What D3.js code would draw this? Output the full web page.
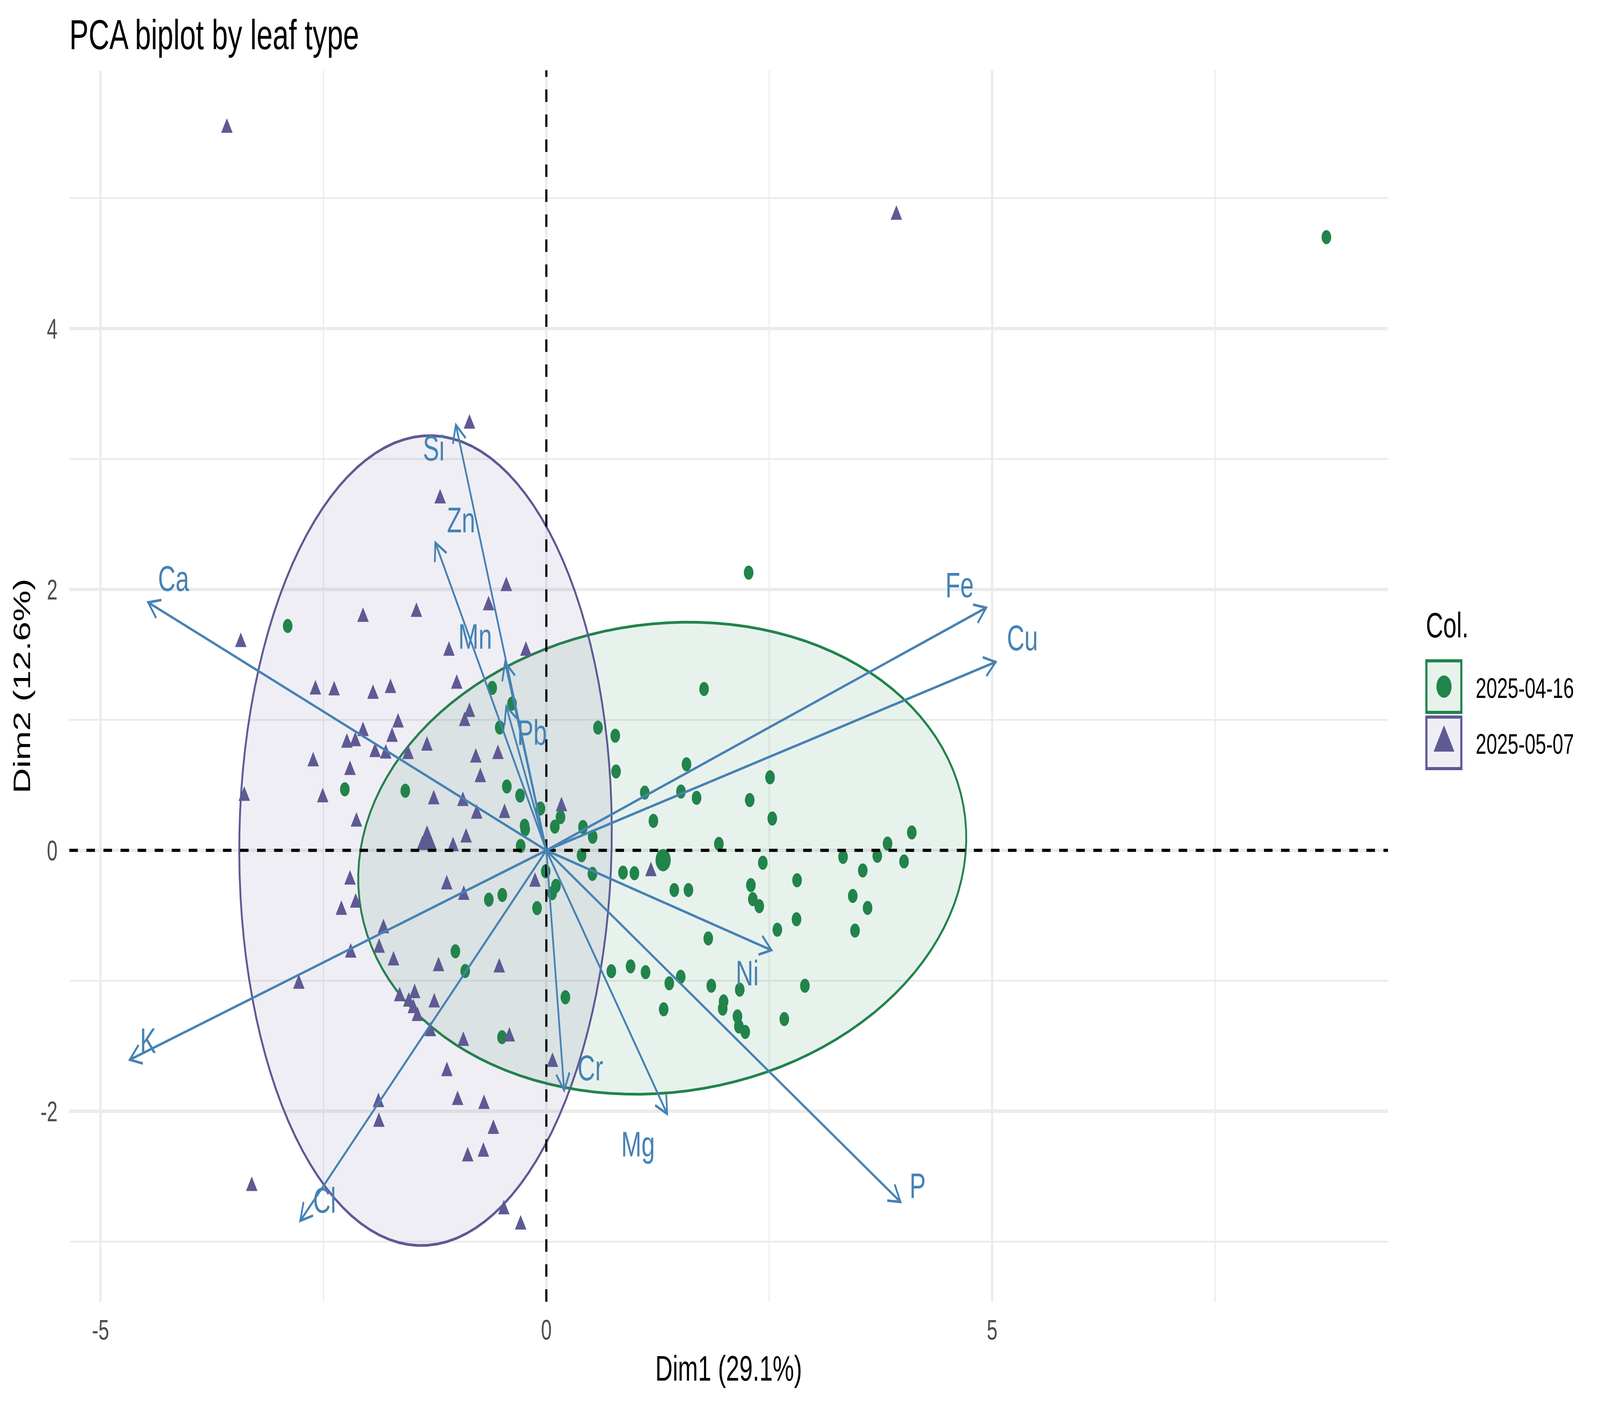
<!DOCTYPE html>
<html>
<head>
<meta charset="utf-8">
<script src="https://cdn.jsdelivr.net/npm/d3@7"></script>
<style>
  html, body { margin: 0; padding: 0; background: #ffffff; overflow: hidden; width: 100%; height: 100%; }
  #chart { position: fixed; left: 0; top: 0; width: 100vw; height: 100vh; }
  svg { display: block; width: 100vw; height: 100vh; }
  text { font-family: "Liberation Sans", Arial, Helvetica, sans-serif; }
</style>
</head>
<body>
<div id="chart"></div>
<script>
// ---------------- DATA ----------------
const groups = ["2025-04-16", "2025-05-07"];
const groupColors = ["#21844A", "#5E5A94"];

// Individuals, group 2025-04-16 (circles)
const grpA_x = [-2.901,-0.607,-0.385,-0.523,-2.260,-1.582,-0.443,-0.295,-0.066,-0.244,-0.237,0.095,0.159,-0.288,-0.007,0.108,0.065,-0.645,-0.494,-0.104,-1.020,-0.910,-0.497,2.269,1.769,0.579,0.773,0.782,1.572,2.509,1.104,1.510,1.685,2.281,1.201,2.534,0.411,0.520,1.935,0.395,0.517,0.860,0.988,1.435,1.594,2.428,2.812,2.294,2.316,2.388,3.328,3.549,3.712,3.827,4.099,4.012,3.437,3.603,2.806,2.591,3.462,1.816,0.214,0.729,0.945,1.113,1.507,1.379,1.850,2.169,2.900,1.988,1.978,1.316,2.144,2.160,2.231,2.669,8.749];
const grpA_y = [1.720,1.246,1.125,0.942,0.468,0.457,0.490,0.420,0.321,0.189,0.162,0.182,0.255,0.034,-0.161,-0.272,-0.328,-0.378,-0.342,-0.443,-0.774,-0.925,-1.432,2.129,1.237,0.941,0.879,0.605,0.660,0.560,0.443,0.451,0.403,0.386,0.226,0.244,0.179,0.104,0.050,-0.037,-0.180,-0.170,-0.175,-0.304,-0.304,-0.095,-0.229,-0.266,-0.374,-0.428,-0.050,-0.154,-0.042,0.052,0.137,-0.085,-0.349,-0.441,-0.528,-0.608,-0.615,-0.675,-1.126,-0.926,-0.889,-0.934,-0.969,-1.019,-1.038,-1.068,-1.038,-1.158,-1.213,-1.218,-1.273,-1.350,-1.392,-1.293,4.701];

// Individuals, group 2025-05-07 (triangles)
const grpB_x = [-0.862,-1.191,-0.449,-0.648,-2.056,-1.457,-3.427,-1.092,-0.229,-2.590,-2.380,-1.944,-1.748,-1.005,-0.862,-0.916,-1.663,-2.056,-2.237,-2.143,-1.730,-1.921,-1.801,-1.551,-1.339,-2.615,-2.202,-0.791,-0.543,-0.740,-2.508,-3.388,-1.263,-0.936,-0.781,-0.469,-2.130,-1.046,-0.900,-2.202,-1.117,-0.926,-2.138,-2.299,-0.127,-1.827,-1.875,-2.194,-1.714,-1.209,-0.528,-2.776,-1.645,-1.477,-1.543,-1.492,-1.446,-1.257,-1.301,-0.931,-0.415,0.069,-1.115,-1.883,-0.995,-0.699,-1.878,-0.594,-0.882,-0.706,-3.304,-0.477,-0.288,0.170,1.173,-3.583,3.926,-1.390];
const grpB_y = [3.270,2.697,2.025,1.877,1.789,1.827,1.596,1.529,1.529,1.232,1.225,1.199,1.243,1.276,1.060,0.990,0.979,0.913,0.824,0.835,0.869,0.752,0.741,0.737,0.802,0.681,0.615,0.710,0.737,0.560,0.406,0.417,0.390,0.377,0.280,0.285,0.219,0.031,0.097,-0.225,-0.262,-0.342,-0.402,-0.457,-0.242,-0.598,-0.748,-0.785,-0.845,-0.889,-0.899,-1.024,-1.120,-1.096,-1.161,-1.211,-1.271,-1.167,-1.388,-1.462,-1.428,-1.623,-1.694,-1.931,-1.915,-1.945,-2.082,-2.136,-2.347,-2.311,-2.574,-2.753,-2.870,0.337,-0.161,5.538,4.871,0.040];

// Group mean points
const centroid_x = [1.31, -1.338];
const centroid_y = [-0.075, 0.067];

// Concentration ellipses (centre, semi-axes, rotation in degrees)
const ellipse_cx = [1.30, -1.355];
const ellipse_cy = [-0.06, 0.075];
const ellipse_rx = [3.415, 2.088];
const ellipse_ry = [1.80, 3.105];
const ellipse_angle = [3.65, -1.6];

// Variables (arrows)
const vars    = ["Ca","K","Cl","Si","Zn","Mn","Pb","Fe","Cu","Ni","P","Mg","Cr"];
const var_x   = [-4.466,-4.672,-2.760,-1.015,-1.245,-0.463,-0.450,4.933,5.040,2.525,3.972,1.355,0.200];
const var_y   = [1.901,-1.605,-2.840,3.262,2.359,1.442,1.104,1.860,1.444,-0.765,-2.695,-2.020,-1.840];
const label_x = [-4.181,-4.466,-2.488,-1.263,-0.956,-0.798,-0.160,4.635,5.340,2.253,4.165,1.029,0.494];
const label_y = [2.084,-1.458,-2.683,3.086,2.535,1.643,0.905,2.037,1.630,-0.939,-2.569,-2.249,-1.668];

// Axes
const xMajorTicks = [-5, 0, 5];
const xMinorTicks = [-2.5, 2.5, 7.5];
const yMajorTicks = [-2, 0, 2, 4];
const yMinorTicks = [-3, -1, 1, 3, 5];
const xDomain = [-5.35, 9.44];
const yDomain = [-3.46, 5.98];

const titleText = "PCA biplot by leaf type";
const xTitle = "Dim1 (29.1%)";
const yTitle = "Dim2 (12.6%)";
const legendTitle = "Col.";

// ---------------- LAYOUT ----------------
const W = 6000, H = 3600;
const panel = {left: 260, right: 5205, top: 180, bottom: 3333};
const arrowColor = "#4682B4";
const gridColor = "#EBEBEB";

const svg = d3.select("#chart").append("svg")
  .attr("viewBox", `0 0 ${W} ${H}`)
  .attr("preserveAspectRatio", "none");

svg.append("rect").attr("width", W).attr("height", H).attr("fill", "#ffffff");

const x = d3.scaleLinear().domain(xDomain).range([panel.left, panel.right]);
const y = d3.scaleLinear().domain(yDomain).range([panel.bottom, panel.top]);

// ---------------- GRID ----------------
const grid = svg.append("g");
grid.selectAll(".xminor").data(xMinorTicks).enter().append("line")
  .attr("x1", d => x(d)).attr("x2", d => x(d))
  .attr("y1", panel.top).attr("y2", panel.bottom)
  .attr("stroke", gridColor).attr("stroke-width", 4.5);
grid.selectAll(".yminor").data(yMinorTicks).enter().append("line")
  .attr("y1", d => y(d)).attr("y2", d => y(d))
  .attr("x1", panel.left).attr("x2", panel.right)
  .attr("stroke", gridColor).attr("stroke-width", 4.5);
grid.selectAll(".xmajor").data(xMajorTicks).enter().append("line")
  .attr("x1", d => x(d)).attr("x2", d => x(d))
  .attr("y1", panel.top).attr("y2", panel.bottom)
  .attr("stroke", gridColor).attr("stroke-width", 8.5);
grid.selectAll(".ymajor").data(yMajorTicks).enter().append("line")
  .attr("y1", d => y(d)).attr("y2", d => y(d))
  .attr("x1", panel.left).attr("x2", panel.right)
  .attr("stroke", gridColor).attr("stroke-width", 8.5);

// ---------------- ELLIPSES ----------------
const line = d3.line().x(d => x(d[0])).y(d => y(d[1])).curve(d3.curveLinearClosed);
const ellG = svg.append("g");
groups.forEach((g, i) => {
  const th = ellipse_angle[i] * Math.PI / 180;
  const pts = d3.range(0, 360, 3).map(a => {
    const t = a * Math.PI / 180;
    const ex = ellipse_rx[i] * Math.cos(t), ey = ellipse_ry[i] * Math.sin(t);
    return [ellipse_cx[i] + ex * Math.cos(th) - ey * Math.sin(th),
            ellipse_cy[i] + ex * Math.sin(th) + ey * Math.cos(th)];
  });
  ellG.append("path").attr("d", line(pts))
    .attr("fill", groupColors[i]).attr("fill-opacity", 0.1)
    .attr("stroke", groupColors[i]).attr("stroke-width", 7);
});

// ---------------- POINTS ----------------
const ptsA = grpA_x.map((v, i) => [v, grpA_y[i]]);
const ptsB = grpB_x.map((v, i) => [v, grpB_y[i]]);
const pg = svg.append("g");
pg.selectAll(".ca").data(ptsA).enter().append("circle")
  .attr("cx", d => x(d[0])).attr("cy", d => y(d[1])).attr("r", 18)
  .attr("fill", groupColors[0]);
const tri = d3.symbol().type(d3.symbolTriangle).size(800);
pg.selectAll(".tb").data(ptsB).enter().append("path")
  .attr("d", tri).attr("transform", d => `translate(${x(d[0])},${y(d[1])})`)
  .attr("fill", groupColors[1]);
// group means
pg.append("circle").attr("cx", x(centroid_x[0])).attr("cy", y(centroid_y[0])).attr("r", 28.5)
  .attr("fill", groupColors[0]);
pg.append("path").attr("d", d3.symbol().type(d3.symbolTriangle).size(2300))
  .attr("transform", `translate(${x(centroid_x[1])},${y(centroid_y[1])})`)
  .attr("fill", groupColors[1]);

// ---------------- ZERO LINES ----------------
svg.append("line").attr("x1", panel.left).attr("x2", panel.right)
  .attr("y1", y(0)).attr("y2", y(0))
  .attr("stroke", "#000").attr("stroke-width", 8).attr("stroke-dasharray", "32,32");
svg.append("line").attr("y1", panel.bottom).attr("y2", panel.top)
  .attr("x1", x(0)).attr("x2", x(0))
  .attr("stroke", "#000").attr("stroke-width", 8).attr("stroke-dasharray", "32,32");

// ---------------- ARROWS ----------------
const ag = svg.append("g").attr("stroke", arrowColor).attr("stroke-width", 6.5)
  .attr("fill", "none").attr("stroke-linecap", "butt");
const headLen = 50, headAng = Math.PI / 6;
vars.forEach((v, i) => {
  const x0 = x(0), y0 = y(0), x1 = x(var_x[i]), y1 = y(var_y[i]);
  ag.append("line").attr("x1", x0).attr("y1", y0).attr("x2", x1).attr("y2", y1);
  const ang = Math.atan2(y1 - y0, x1 - x0);
  const a1 = ang + Math.PI - headAng, a2 = ang + Math.PI + headAng;
  ag.append("path").attr("d",
    `M${x1 + headLen * Math.cos(a1)},${y1 + headLen * Math.sin(a1)}L${x1},${y1}L${x1 + headLen * Math.cos(a2)},${y1 + headLen * Math.sin(a2)}`)
    .attr("stroke-linejoin", "miter");
});
svg.append("g").selectAll("text").data(vars).enter().append("text")
  .attr("x", (d, i) => x(label_x[i]))
  .attr("y", (d, i) => y(label_y[i]) + 32)
  .attr("text-anchor", "middle")
  .attr("font-size", 91)
  .attr("fill", arrowColor)
  .text(d => d);

// ---------------- AXES ----------------
svg.append("g").selectAll("text").data(xMajorTicks).enter().append("text")
  .attr("x", d => x(d)).attr("y", 3430)
  .attr("text-anchor", "middle").attr("font-size", 72).attr("fill", "#4D4D4D")
  .text(d => d3.format("d")(d).replace("\u2212", "-"));
svg.append("g").selectAll("text").data(yMajorTicks).enter().append("text")
  .attr("x", 216).attr("y", d => y(d) + 26)
  .attr("text-anchor", "end").attr("font-size", 72).attr("fill", "#4D4D4D")
  .text(d => d3.format("d")(d).replace("\u2212", "-"));

svg.append("text").attr("x", (panel.left + panel.right) / 2).attr("y", 3535)
  .attr("text-anchor", "middle").attr("font-size", 90).attr("fill", "#000")
  .text(xTitle);
svg.append("text")
  .attr("transform", `translate(113,${(panel.top + panel.bottom) / 2}) rotate(-90)`)
  .attr("text-anchor", "middle").attr("font-size", 90).attr("fill", "#000")
  .text(yTitle);

svg.append("text").attr("x", 260).attr("y", 126)
  .attr("font-size", 108).attr("fill", "#000").text(titleText);

// ---------------- LEGEND ----------------
const lg = svg.append("g");
lg.append("text").attr("x", 5347).attr("y", 1632).attr("font-size", 90).attr("fill", "#000")
  .text(legendTitle);
const keyTop = [1692, 1836];
const keyLabelY = [1787, 1930];
groups.forEach((g, i) => {
  lg.append("rect").attr("x", 5349).attr("y", keyTop[i]).attr("width", 131).attr("height", 132)
    .attr("fill", groupColors[i]).attr("fill-opacity", 0.1)
    .attr("stroke", groupColors[i]).attr("stroke-width", 8);
  lg.append("text").attr("x", 5534).attr("y", keyLabelY[i])
    .attr("font-size", 72).attr("fill", "#000").text(g);
});
lg.append("circle").attr("cx", 5415).attr("cy", 1758).attr("r", 28.5).attr("fill", groupColors[0]);
lg.append("path").attr("d", d3.symbol().type(d3.symbolTriangle).size(2634))
  .attr("transform", "translate(5415,1902)").attr("fill", groupColors[1]);
</script>
</body>
</html>
